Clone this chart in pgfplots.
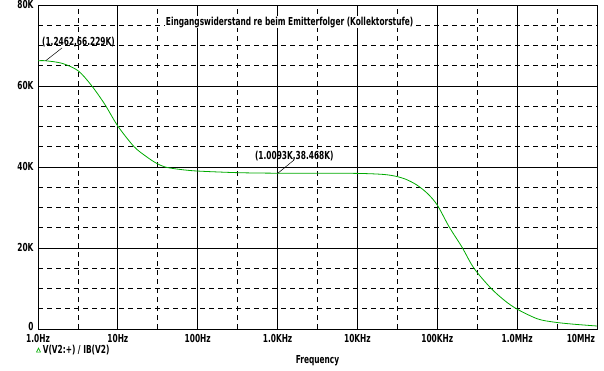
\documentclass[border=0pt]{standalone}
\usepackage{fontspec}
\setmainfont{DejaVu Sans Condensed}[FakeStretch=0.75]
\usepackage{pgfplots}
\pgfplotsset{compat=1.18}
\definecolor{psgreen}{RGB}{0,170,0}
\newcommand{\psfont}{\bfseries\fontsize{11}{11}\selectfont}
\begin{document}
\begin{tikzpicture}
\useasboundingbox (-38pt,-41pt) rectangle (566pt,5pt+324pt);
\begin{axis}[
  at={(0,0)}, anchor=south west,
  width=559pt, height=324pt, scale only axis,
  xmode=log, xmin=1, xmax=1e7, ymin=0, ymax=80000,
  xtick={1,10,100,1000,10000,100000,1000000,10000000},
  xticklabels={1.0Hz,10Hz,100Hz,1.0KHz,10KHz,100KHz,1.0MHz,\makebox[0pt][r]{10MHz\hspace{2pt}}},
  minor xtick={3.1623,31.623,316.23,3162.3,31623,316228,3162278},
  ytick={0,20000,40000,60000,80000},
  yticklabels={\raisebox{3pt}{0},20K,40K,60K,80K},
  minor ytick={5000,10000,15000,25000,30000,35000,45000,50000,55000,65000,70000,75000},
  scaled y ticks=false,
  grid=both,
  major grid style={black, line width=0.8pt},
  minor grid style={black, line width=0.8pt, dash pattern=on 5pt off 4pt},
  major tick length=0pt, minor tick length=0pt,
  axis line style={black, line width=0.9pt},
  tick label style={font=\psfont},
  yticklabel style={xshift=-1pt, yshift=1pt},
  xticklabel style={yshift=-2pt},
  xlabel={Frequency},
  xlabel style={font=\psfont, at={(axis description cs:0.5,0)}, anchor=north, yshift=-23pt},
  legend style={at={(axis description cs:0,0)}, anchor=north west, xshift=-2pt, yshift=-14pt, draw=none, fill=none, font=\psfont, inner sep=0pt},
  legend cell align=left,
  legend image code/.code={\draw[psgreen, solid, line width=0.6pt] (1pt,-2pt)--(5pt,-2pt)--(3pt,2pt)--cycle;},
]
\addplot[psgreen, line width=0.8pt, smooth] coordinates {
(1,66229) (1.2462,66229) (2,65600) (3.162,63800) (4.6,60300) (6.8,55600) (10,50100)
(16,45000) (23,42500) (30,41000) (39,40000) (60,39400) (100,39000) (316,38600)
(1009.3,38468) (3000,38468) (10000,38420) (20000,38200) (28800,37800) (40000,37000) (55000,35600)
(75000,33500) (100000,30600) (141000,25200) (204000,20200) (288000,15000) (468000,10100)
(700000,7000) (1000000,4900) (1800000,2500) (2900000,1700) (5000000,1200) (10000000,740)
};
\addlegendentry{V(V2:+) / IB(V2)}
\draw[black, line width=0.5pt] (axis cs:1.2462,66229) -- (axis cs:2.0,69400);
\node[anchor=south west, inner sep=0pt, font=\psfont] at (axis cs:1.12,69600) {(1.2462,66.229K)};
\draw[black, line width=0.5pt] (axis cs:1009.3,38468) -- (axis cs:1600,41700);
\node[anchor=south west, inner sep=0pt, font=\psfont] at (axis cs:520,41500) {(1.0093K,38.468K)};
\node[fill=white, inner sep=1pt, font=\psfont] at (axis cs:1413,75800) {Eingangswiderstand re beim Emitterfolger (Kollektorstufe)};
\end{axis}
\end{tikzpicture}
\end{document}
